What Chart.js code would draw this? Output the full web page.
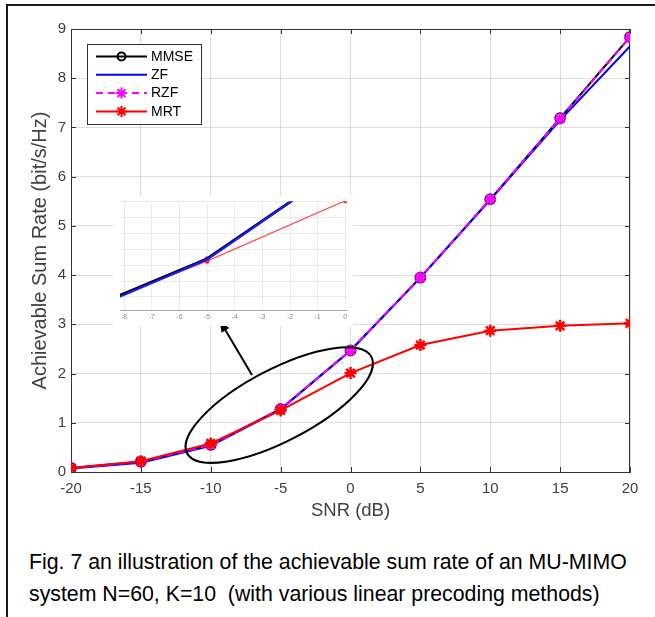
<!DOCTYPE html>
<html>
<head>
<meta charset="utf-8">
<script src="https://cdn.jsdelivr.net/npm/chart.js@4.4.1/dist/chart.umd.min.js"></script>
<style>
  html, body { margin: 0; padding: 0; background: #fff; }
  #page { position: relative; width: 655px; height: 617px; overflow: hidden;
          font-family: "Liberation Sans", Arial, sans-serif; }
  #frame { position: absolute; left: 6px; top: 4px; right: -10px; bottom: -10px;
           border-top: 2px solid #1a1a1a; border-left: 2px solid #1a1a1a; }
  #mainBox { position: absolute; left: 0; top: 0; width: 655px; height: 540px; }
  #insetBox { position: absolute; left: 113px; top: 196px; width: 240px; height: 130px; background: #fff; }
  #caption { position: absolute; left: 29px; top: 547px; font-size: 21.3px; line-height: 31.7px;
             color: #000; white-space: pre; }
</style>
</head>
<body>
<div id="page">
  <div id="frame"></div>
  <div id="mainBox"><canvas id="main"></canvas></div>
  <div id="insetBox"><canvas id="inset"></canvas></div>
  <div id="caption">Fig. 7 an illustration of the achievable sum rate of an MU-MIMO
system N=60, K=10  (with various linear precoding methods)</div>
</div>
<script>
// values
const snr  = [-20, -15, -10, -5, 0, 5, 10, 15, 20];
const mmse = [0.08, 0.21, 0.55, 1.28, 2.47, 3.95, 5.54, 7.19, 8.84];
const zf   = [0.07, 0.19, 0.53, 1.27, 2.47, 3.95, 5.53, 7.15, 8.65];
const rzf  = [0.08, 0.21, 0.55, 1.28, 2.47, 3.95, 5.54, 7.18, 8.83];
const mrt  = [0.08, 0.22, 0.58, 1.25, 2.01, 2.58, 2.87, 2.97, 3.02];
const seriesNames = ['MMSE', 'ZF', 'RZF', 'MRT'];

const pts = ys => snr.map((x, i) => ({ x: x, y: ys[i] }));
const FONT = '"Liberation Sans", Arial, sans-serif';
const TICK_COLOR = '#404040';

// zoom ellipse + arrow, placed in data units
const ellipse = { x: -5.1, y: 1.36, rx: 104, ry: 36, angle: 27.6 };
const arrow = { from: { x: -7.05, y: 1.97 }, to: { x: -9.35, y: 3.07 } };

const legendItems = [
  { label: seriesNames[0], color: '#000000', dash: [], marker: 'circle', fill: 'rgba(0,0,0,0)' },
  { label: seriesNames[1], color: '#0000ff', dash: [], marker: null },
  { label: seriesNames[2], color: '#ff00ff', dash: [7, 5], marker: 'star' },
  { label: seriesNames[3], color: '#ff0000', dash: [], marker: 'star' }
];

// box, inward ticks, ellipse, arrow and legend
const decorations = {
  id: 'decorations',
  beforeDatasetsDraw(chart) {
    const { ctx, chartArea: a, scales: { x, y } } = chart;
    ctx.save();
    ctx.strokeStyle = '#333';
    ctx.lineWidth = 1;
    ctx.strokeRect(a.left + 0.5, a.top + 0.5, a.right - a.left - 1, a.bottom - a.top);
    ctx.beginPath();
    x.ticks.forEach(t => {
      const px = Math.round(x.getPixelForValue(t.value)) + 0.5;
      ctx.moveTo(px, a.bottom); ctx.lineTo(px, a.bottom - 5);
      ctx.moveTo(px, a.top); ctx.lineTo(px, a.top + 5);
    });
    y.ticks.forEach(t => {
      const py = Math.round(y.getPixelForValue(t.value)) + 0.5;
      ctx.moveTo(a.left, py); ctx.lineTo(a.left + 5, py);
      ctx.moveTo(a.right, py); ctx.lineTo(a.right - 5, py);
    });
    ctx.stroke();
    ctx.restore();
  },
  afterDatasetsDraw(chart) {
    const { ctx, chartArea: a, scales: { x, y } } = chart;
    ctx.save();
    // ellipse
    ctx.strokeStyle = '#000';
    ctx.lineWidth = 2;
    ctx.beginPath();
    ctx.ellipse(x.getPixelForValue(ellipse.x), y.getPixelForValue(ellipse.y),
                ellipse.rx, ellipse.ry, -ellipse.angle * Math.PI / 180, 0, Math.PI * 2);
    ctx.stroke();
    // arrow
    const x0 = x.getPixelForValue(arrow.from.x), y0 = y.getPixelForValue(arrow.from.y);
    const x1 = x.getPixelForValue(arrow.to.x), y1 = y.getPixelForValue(arrow.to.y);
    const ang = Math.atan2(y1 - y0, x1 - x0);
    const hl = 11, hw = 4.5;
    ctx.beginPath();
    ctx.moveTo(x0, y0);
    ctx.lineTo(x1 - hl * Math.cos(ang), y1 - hl * Math.sin(ang));
    ctx.stroke();
    ctx.fillStyle = '#000';
    ctx.beginPath();
    ctx.moveTo(x1, y1);
    ctx.lineTo(x1 - hl * Math.cos(ang) + hw * Math.sin(ang), y1 - hl * Math.sin(ang) - hw * Math.cos(ang));
    ctx.lineTo(x1 - hl * Math.cos(ang) - hw * Math.sin(ang), y1 - hl * Math.sin(ang) + hw * Math.cos(ang));
    ctx.closePath();
    ctx.fill();

    // legend
    const lx = a.left + 16, ly = a.top + 15, lw = 114, lh = 80;
    ctx.fillStyle = '#fff';
    ctx.fillRect(lx, ly, lw, lh);
    ctx.strokeStyle = '#333';
    ctx.lineWidth = 1;
    ctx.strokeRect(lx + 0.5, ly + 0.5, lw, lh);
    ctx.font = '14px ' + FONT;
    ctx.textBaseline = 'middle';
    legendItems.forEach((it, i) => {
      const ry = ly + 12.5 + i * 18.3;
      ctx.strokeStyle = it.color;
      ctx.lineWidth = 2;
      ctx.setLineDash(it.dash);
      ctx.beginPath();
      ctx.moveTo(lx + 9, ry); ctx.lineTo(lx + 60, ry);
      ctx.stroke();
      ctx.setLineDash([]);
      if (it.marker) {
        ctx.strokeStyle = it.color;
        ctx.fillStyle = it.fill || it.color;
        Chart.helpers.drawPoint(ctx, {
          pointStyle: it.marker, radius: it.marker === 'circle' ? 4 : 5.5,
          borderWidth: it.marker === 'circle' ? 1.5 : 2.5, rotation: 0
        }, lx + 34.5, ry);
      }
      ctx.fillStyle = '#000';
      ctx.fillText(it.label, lx + 64, ry + 0.5);
    });
    ctx.restore();
  }
};

new Chart(document.getElementById('main'), {
  type: 'line',
  data: {
    datasets: [
      { label: seriesNames[0], data: pts(mmse), order: 4, borderColor: '#000', borderWidth: 2,
        pointStyle: 'circle', pointRadius: 5, pointBorderWidth: 1.5,
        pointBorderColor: '#000', pointBackgroundColor: 'rgba(0,0,0,0)' },
      { label: seriesNames[1], data: pts(zf), order: 3, borderColor: '#0000ff', borderWidth: 2,
        pointRadius: 0 },
      { label: seriesNames[2], data: pts(rzf), order: 2, borderColor: '#ff00ff', borderWidth: 2,
        borderDash: [7, 5], pointStyle: 'star', pointRadius: 6, pointBorderWidth: 2.5,
        pointBorderColor: '#ff00ff', pointBackgroundColor: '#ff00ff' },
      { label: seriesNames[3], data: pts(mrt), order: 1, borderColor: '#ff0000', borderWidth: 2,
        pointStyle: 'star', pointRadius: 6, pointBorderWidth: 2.5,
        pointBorderColor: '#ff0000', pointBackgroundColor: '#ff0000' }
    ]
  },
  options: {
    responsive: true,
    maintainAspectRatio: false,
    animation: false,
    layout: { padding: { top: 29, right: 25, left: 0, bottom: 0 } },
    plugins: { legend: { display: false }, tooltip: { enabled: false } },
    scales: {
      x: {
        type: 'linear', min: -20, max: 20,
        ticks: { stepSize: 5, color: TICK_COLOR, font: { family: FONT, size: 15 }, padding: 8, maxRotation: 0 },
        grid: { color: 'rgba(0,0,0,0.13)', drawTicks: false },
        border: { color: '#333' },
        title: { display: true, text: 'SNR (dB)', color: TICK_COLOR,
                 font: { family: FONT, size: 18.5 }, padding: { top: 0, bottom: 18 } },
        afterFit: s => { s.height = 68; }
      },
      y: {
        min: 0, max: 9,
        ticks: { stepSize: 1, color: TICK_COLOR, font: { family: FONT, size: 15 }, padding: 5 },
        grid: { color: 'rgba(0,0,0,0.13)', drawTicks: false },
        border: { color: '#333' },
        title: { display: true, text: 'Achievable Sum Rate (bit/s/Hz)', color: TICK_COLOR,
                 font: { family: FONT, size: 20 }, padding: { top: 28, bottom: 0 } },
        afterFit: s => { s.width = 71; }
      }
    }
  },
  plugins: [decorations]
});

// zoomed inset, same series
new Chart(document.getElementById('inset'), {
  type: 'line',
  data: {
    datasets: [
      { label: seriesNames[1], data: pts(zf), order: 1, borderColor: '#1a1aff', borderWidth: 2.2, pointRadius: 0 },
      { label: seriesNames[0], data: pts(mmse), order: 2, borderColor: '#000', borderWidth: 2.8, pointRadius: 0 },
      { label: seriesNames[2], data: pts(rzf), order: 3, showLine: false, pointStyle: 'star', pointRadius: 2.5,
        pointBorderWidth: 1.5, pointBorderColor: '#ff00ff', pointBackgroundColor: '#ff00ff' },
      { label: seriesNames[3], data: pts(mrt), order: 4, borderColor: '#ff5050', borderWidth: 1.3,
        pointStyle: 'star', pointRadius: 2.5, pointBorderWidth: 1.5,
        pointBorderColor: '#ff2020', pointBackgroundColor: '#ff2020' }
    ]
  },
  options: {
    responsive: true,
    maintainAspectRatio: false,
    animation: false,
    layout: { padding: { top: 4, right: 3, left: 0, bottom: 0 } },
    plugins: { legend: { display: false }, tooltip: { enabled: false } },
    scales: {
      x: {
        type: 'linear', min: -8.15, max: 0.08,
        ticks: { stepSize: 1, includeBounds: false, color: '#888', font: { family: FONT, size: 7 }, padding: 3, maxRotation: 0 },
        grid: { color: 'rgba(0,0,0,0.08)', drawTicks: false },
        border: { color: '#aaa' },
        afterFit: s => { s.height = 16; }
      },
      y: {
        min: 0.636, max: 2.0,
        ticks: { stepSize: 0.2, includeBounds: false, display: false },
        grid: { color: 'rgba(0,0,0,0.08)', drawTicks: false },
        border: { display: false },
        afterFit: s => { s.width = 7; }
      }
    }
  }
});
</script>
</body>
</html>
